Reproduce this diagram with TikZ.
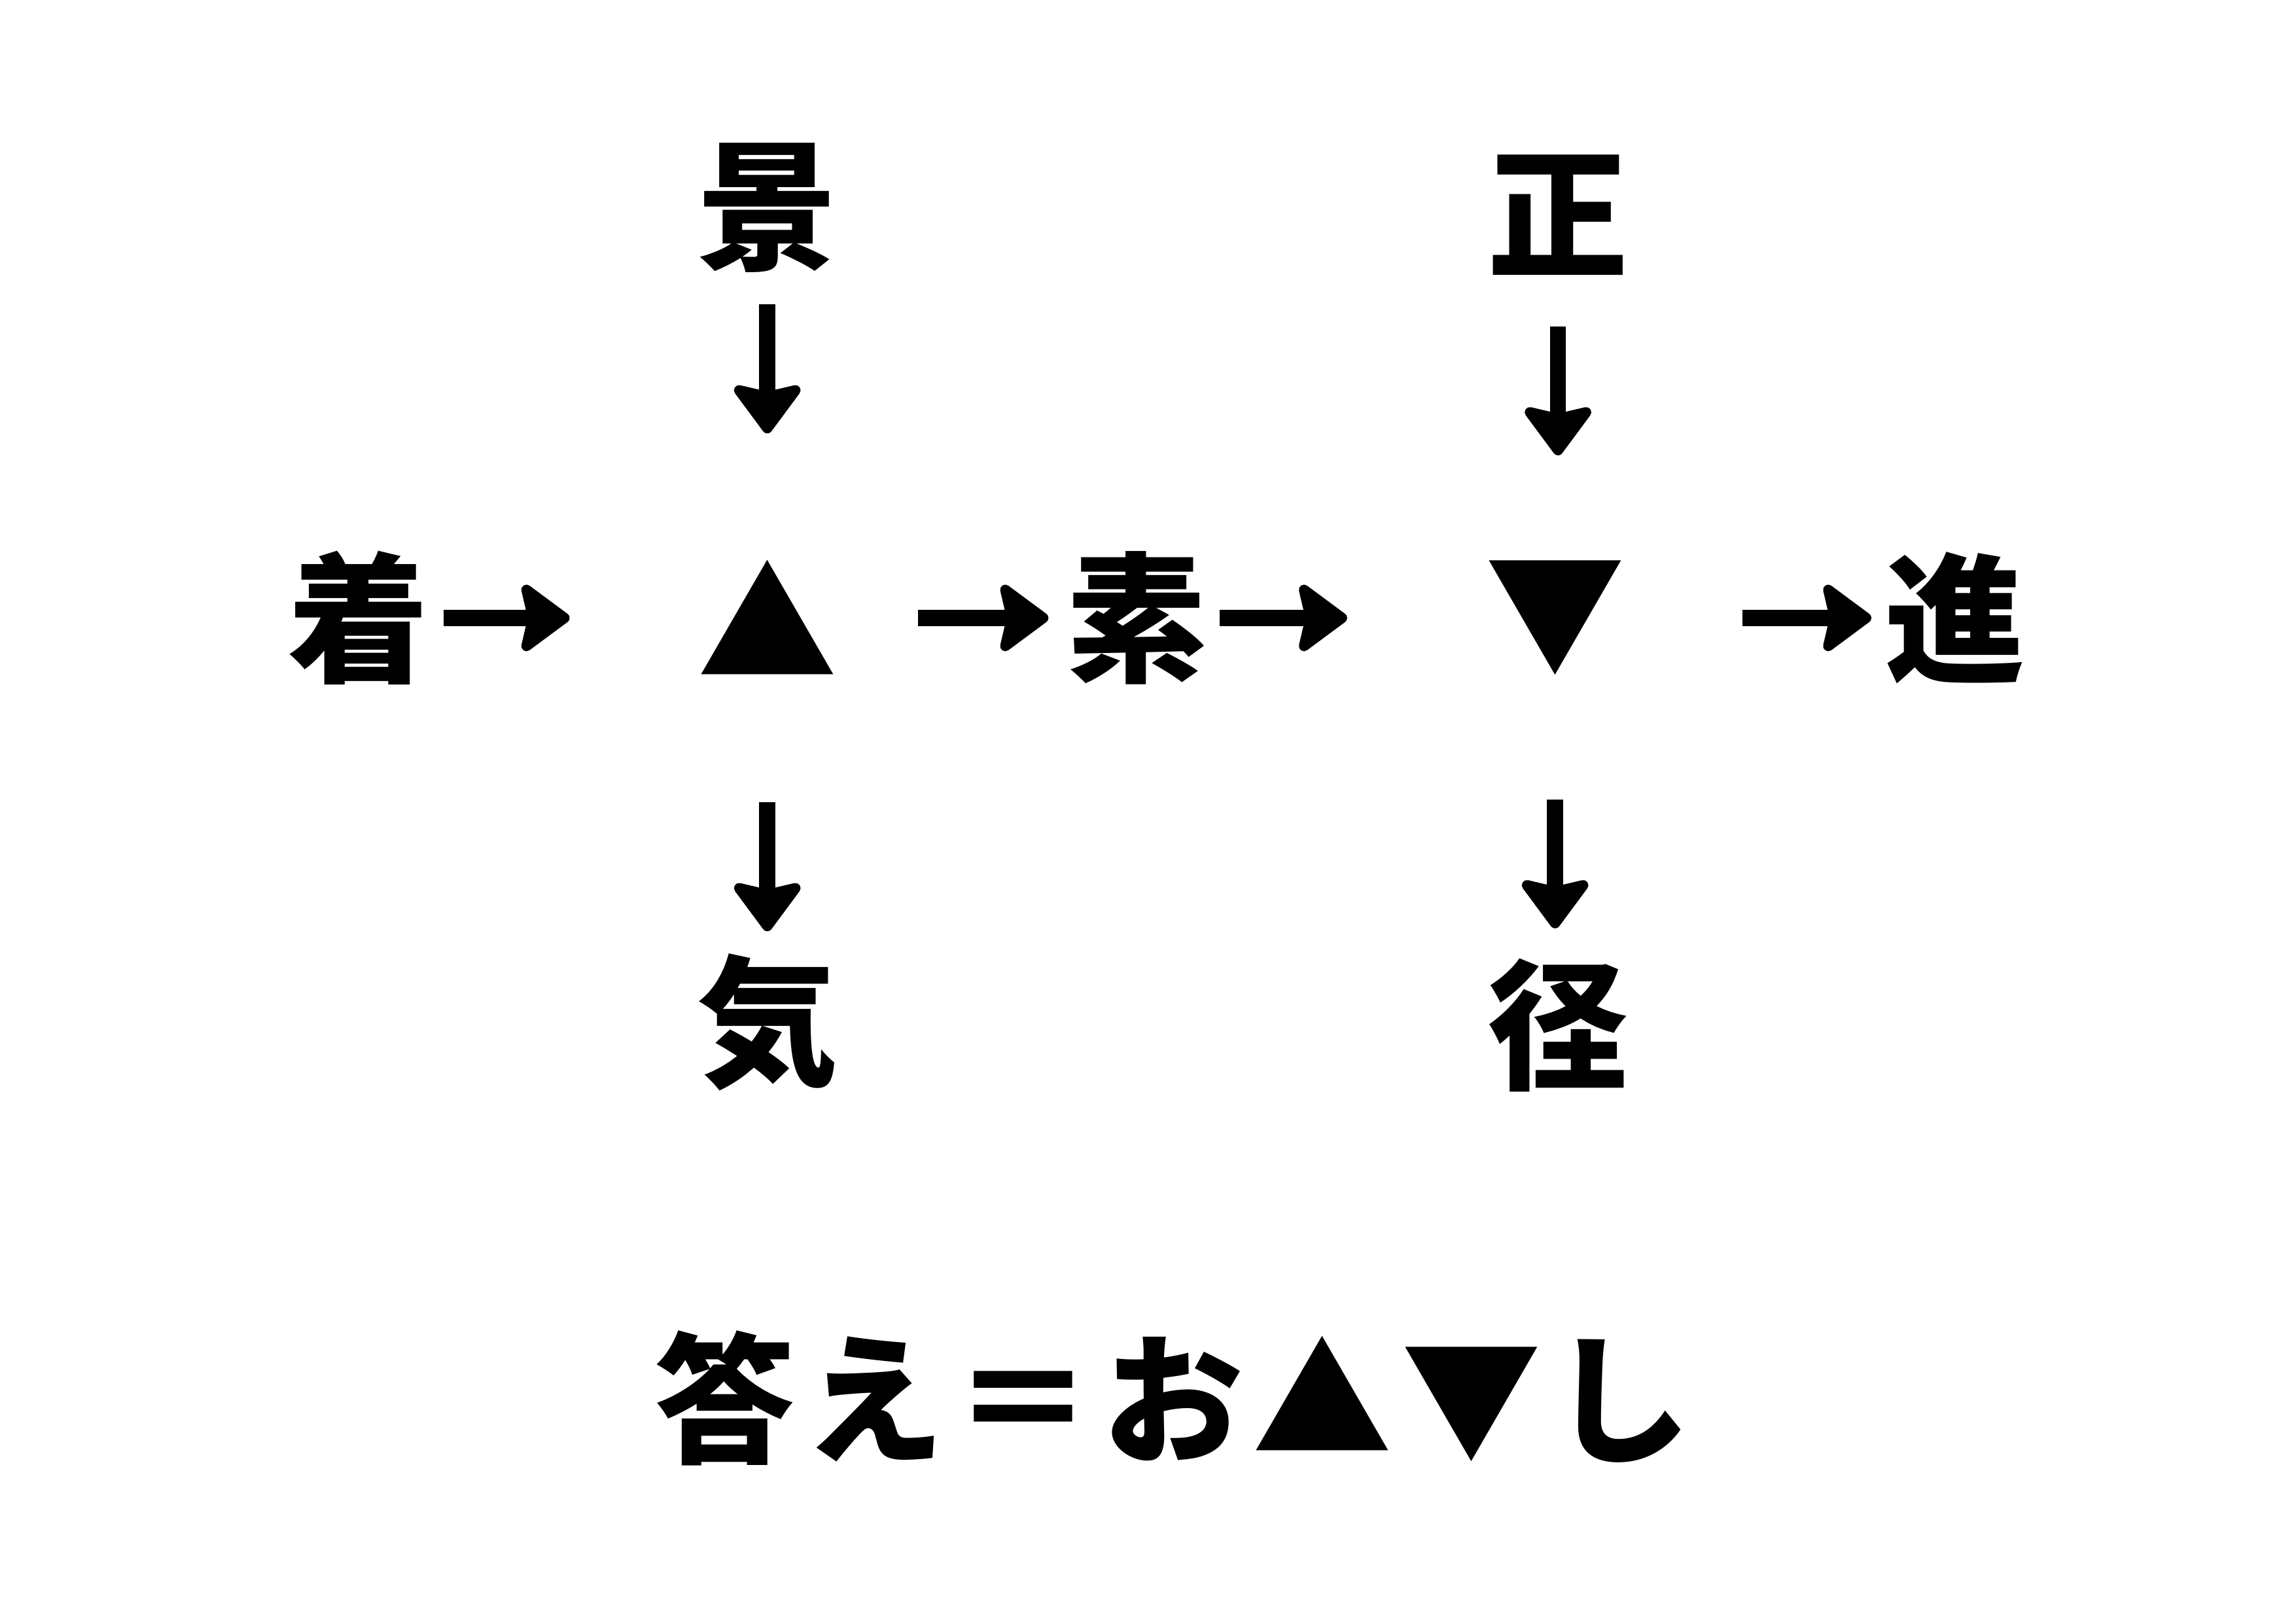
\documentclass[tikz,border=0pt]{standalone}
\usepackage{fontspec}
\newfontfamily\jp{Noto Sans CJK JP}
\usetikzlibrary{arrows.meta}
\tikzset{
  kanji/.style={font=\jp\bfseries\fontsize{96}{96}\selectfont, inner sep=0pt, anchor=center},
  arr/.style={line width=11pt, -{Stealth[length=37pt,width=54pt,inset=6pt,line width=7pt,round]}}
}
\newcommand\kk{\kern6pt}
\begin{document}
\begin{tikzpicture}[x=1pt,y=-1pt]
\useasboundingbox[fill=white] (0,0) rectangle (1568,1109);
\node[kanji] (kei) at (524,142) {景};
\node[kanji] (sei) at (1064,147) {正};
\node[kanji] (chaku) at (245,422) {着};
\node[kanji] (up) at (524,422) {▲};
\node[kanji] (so) at (776,422) {素};
\node[kanji] (down) at (1062,422) {▼};
\node[kanji] (shin) at (1335,422) {進};
\node[kanji] (ki) at (524,698) {気};
\node[kanji] (kei2) at (1064,700) {径};
\node[kanji] (ans) at (801,955) {答\kk え\kk ＝\kk お\kk ▲\kk ▼\kk し};
\draw[arr, shorten <=58pt, shorten >=135pt] (chaku.center) -- (up.center);
\draw[arr, shorten <=103pt, shorten >=60pt] (up.center) -- (so.center);
\draw[arr, shorten <=57pt, shorten >=142pt] (so.center) -- (down.center);
\draw[arr, shorten <=128pt, shorten >=57pt] (down.center) -- (shin.center);
\draw[arr, shorten <=66pt, shorten >=126pt] (kei.center) -- (kei.center |- up.center);
\draw[arr, shorten <=76pt, shorten >=111pt] (sei.center) -- (sei.center |- down.center);
\draw[arr, shorten <=126pt, shorten >=62pt] (up.center) -- (up.center |- ki.center);
\draw[arr, shorten <=124pt, shorten >=66pt] (down.center) -- (down.center |- kei2.center);
\end{tikzpicture}
\end{document}
